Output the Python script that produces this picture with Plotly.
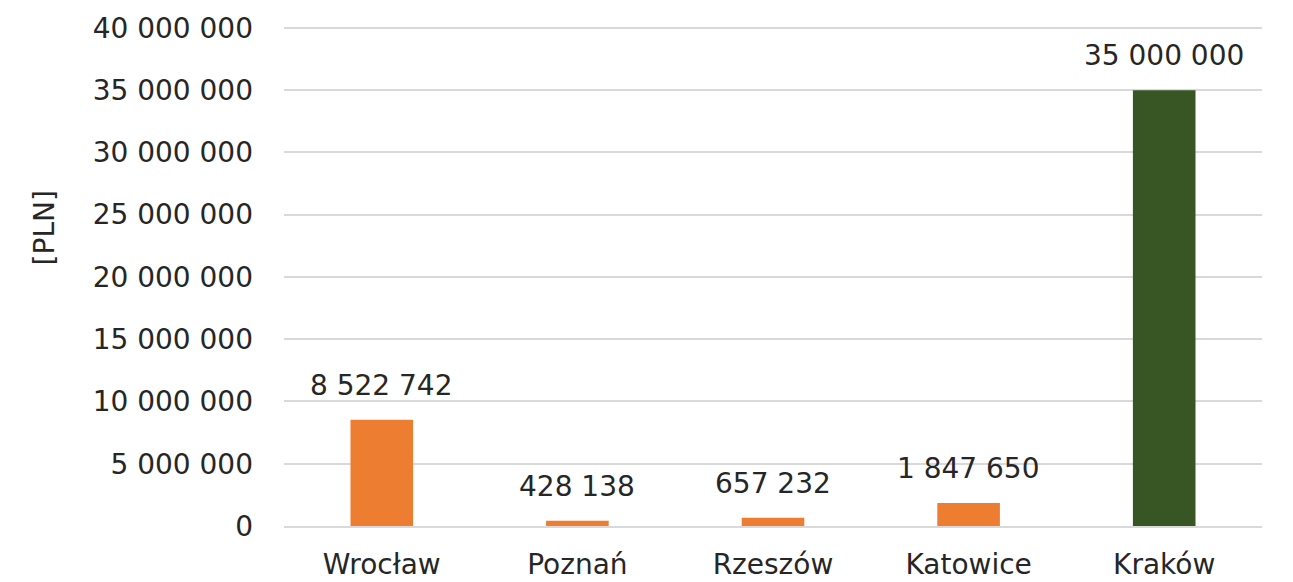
import plotly.graph_objects as go

cities = ["Wrocław", "Poznań", "Rzeszów", "Katowice", "Kraków"]
values = [8522742, 428138, 657232, 1847650, 35000000]
colors = ["#ED7D31", "#ED7D31", "#ED7D31", "#ED7D31", "#375623"]
y_ticks = [0, 5000000, 10000000, 15000000, 20000000, 25000000, 30000000, 35000000, 40000000]

FONT = "DejaVu Sans"
FS = 28
TXT = "#262626"

fig = go.Figure()
fig.add_trace(go.Bar(x=cities, y=values, marker=dict(color=colors, line=dict(width=0)),
                     hoverinfo="skip"))

for c, v in zip(cities, values):
    fig.add_annotation(x=c, y=v, text=f"{v:,}".replace(",", " "), showarrow=False,
                       yanchor="bottom", yshift=16,
                       font=dict(family=FONT, size=FS, color=TXT))

fig.add_annotation(xref="paper", yref="paper", x=-0.245, y=0.596, text="[PLN]",
                   textangle=-90, showarrow=False, xanchor="center", yanchor="middle",
                   font=dict(family=FONT, size=FS, color=TXT))

fig.update_layout(
    width=1285, height=574,
    margin=dict(l=276, r=31, t=18, b=56),
    paper_bgcolor="white", plot_bgcolor="white",
    showlegend=False,
    bargap=0.68,
    font=dict(family=FONT, size=FS, color=TXT),
)
fig.update_yaxes(range=[0, 40150000], tickvals=y_ticks,
                 ticktext=[f"{t:,}".replace(",", " ") for t in y_ticks],
                 showgrid=True, gridcolor="#d9d9d9", gridwidth=1.5,
                 zeroline=False, ticklabelstandoff=30, automargin=False,
                 tickfont=dict(family=FONT, size=FS, color=TXT))
fig.update_xaxes(showline=True, linecolor="#d9d9d9", linewidth=1.5,
                 ticklabelstandoff=13, automargin=False,
                 tickfont=dict(family=FONT, size=FS, color=TXT))

fig.write_html("out.html")
